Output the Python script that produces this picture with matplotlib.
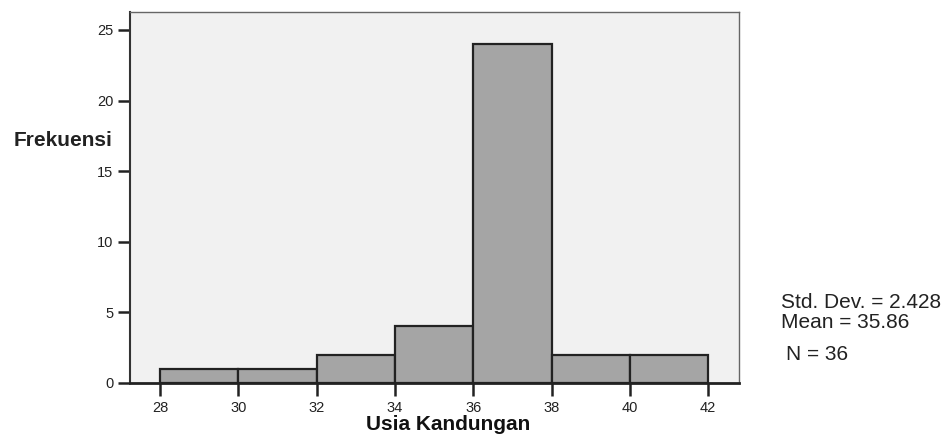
import numpy as np
import matplotlib
matplotlib.use("Agg")
import matplotlib.pyplot as plt

# histogram data
bin_edges = [28, 30, 32, 34, 36, 38, 40, 42]
counts = [1, 1, 2, 4, 24, 2, 2]
x_ticks = [28, 30, 32, 34, 36, 38, 40, 42]
y_ticks = [0, 5, 10, 15, 20, 25]
stats_lines = ["Std. Dev. = 2.428", "Mean = 35.86", "N = 36"]

plt.rcParams['font.family'] = ['Liberation Sans', 'DejaVu Sans']

fig = plt.figure(figsize=(9.51, 4.38), dpi=100)
ax = fig.add_axes([0.1367, 0.1256, 0.6404, 0.847])
ax.set_facecolor('#f1f1f1')

widths = np.diff(bin_edges)
ax.bar(bin_edges[:-1], counts, width=widths, align='edge',
       color='#a5a5a5', edgecolor='#222222', linewidth=1.6, zorder=2)

ax.set_xlim(27.23, 42.79)
ax.set_ylim(0, 26.27)
ax.set_xticks(x_ticks)
ax.set_yticks(y_ticks)
ax.tick_params(axis='both', labelsize=10.5, colors='#222222', width=1.8,
               length=9, pad=3, direction='out')
ax.tick_params(axis='x', pad=4)

for side in ['top', 'right']:
    ax.spines[side].set_color('#666666')
    ax.spines[side].set_linewidth(1.0)
ax.spines['left'].set_color('#333333')
ax.spines['left'].set_linewidth(1.5)
ax.spines['bottom'].set_color('#222222')
ax.spines['bottom'].set_linewidth(2.0)

fig.text(63 / 951, 1 - 140 / 438, 'Frekuensi', fontsize=15, fontweight='bold',
         ha='center', va='center', color='#222222')
fig.text(448 / 951, 1 - 424 / 438, 'Usia Kandungan', fontsize=15,
         fontweight='bold', ha='center', va='center', color='#111111')

fig.text(781 / 951, 1 - 302 / 438, stats_lines[0], fontsize=15,
         ha='left', va='center', color='#222222')
fig.text(781 / 951, 1 - 322 / 438, stats_lines[1], fontsize=15,
         ha='left', va='center', color='#222222')
fig.text(786 / 951, 1 - 354 / 438, stats_lines[2], fontsize=15,
         ha='left', va='center', color='#222222')

fig.savefig('out.png', dpi=100)
